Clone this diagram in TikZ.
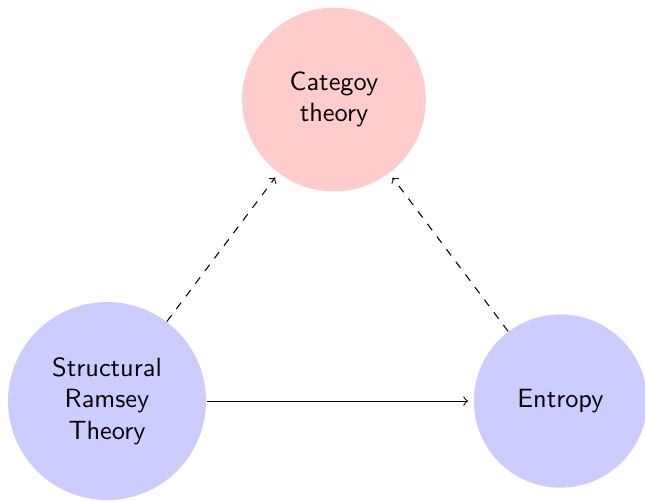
\documentclass[tikz,border=0pt]{standalone}
\usetikzlibrary{arrows}
\begin{document}
\begin{tikzpicture}[
    topic/.style={circle, align=center, font=\sffamily, inner sep=0pt},
    link/.style={->, shorten >=2pt}
  ]
  \useasboundingbox (0,0) rectangle (8.6,-6.667);
  \node[topic, fill=red!20, minimum size=2.45cm] (cat) at (4.453,-1.327) {Categoy\\theory};
  \node[topic, fill=blue!20, minimum size=2.64cm] (srt) at (1.427,-5.347) {Structural\\Ramsey\\Theory};
  \node[topic, fill=blue!20, minimum size=2.31cm] (ent) at (7.473,-5.347) {Entropy};
  \path[link, dashed] (srt) edge (cat);
  \path[link, dashed] (ent) edge (cat);
  \path[link] (srt) edge (ent);
\end{tikzpicture}
\end{document}
